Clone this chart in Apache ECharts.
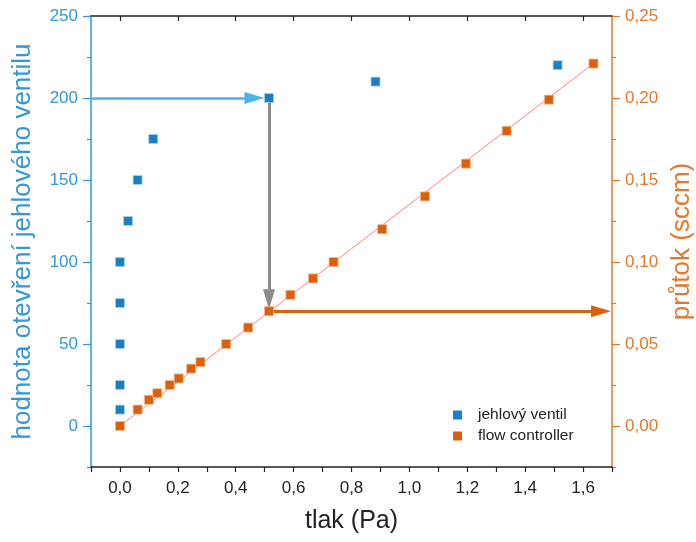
<!DOCTYPE html>
<html><head><meta charset="utf-8">
<script src="https://cdn.jsdelivr.net/npm/echarts@6/dist/echarts.min.js"></script>
<style>html,body{margin:0;padding:0;background:#fff}#c{width:696px;height:542px}</style>
</head><body><div id="c"></div>
<script>
// ---- data ----
const ventilX = [0, 0, 0, 0, 0, 0.028, 0.061, 0.115, 0.515, 0.883, 1.512];
const ventilY = [10, 25, 50, 75, 100, 125, 150, 175, 200, 210, 220];
const flowX = [0, 0.061, 0.100, 0.129, 0.172, 0.203, 0.246, 0.278, 0.367, 0.443, 0.515, 0.589, 0.667, 0.738, 0.906, 1.054, 1.195, 1.336, 1.482, 1.636];
const flowY = [0, 0.010, 0.016, 0.020, 0.025, 0.029, 0.035, 0.039, 0.050, 0.060, 0.070, 0.080, 0.090, 0.100, 0.120, 0.140, 0.160, 0.180, 0.199, 0.221];
const fitX = [0, 1.636];
const fitY = [0, 0.221];
const xLabelValues = [0, 0.2, 0.4, 0.6, 0.8, 1.0, 1.2, 1.4, 1.6];
const leftLabelValues = [0, 50, 100, 150, 200, 250];
const rightLabelValues = [0, 0.05, 0.10, 0.15, 0.20, 0.25];
const seriesNames = ['jehlový ventil', 'flow controller'];
const readValue = 200; // arrow reading on the needle-valve axis

// ---- derived ----
const zip = (a, b) => a.map((v, i) => [v, b[i]]);
const pickI = ventilY.indexOf(readValue);
const pickX = ventilX[pickI];
const flowI = flowX.indexOf(pickX);
const pickFlow = flowY[flowI];

const XMIN = -0.1, XMAX = 1.7, LMIN = -25, LMAX = 250, RMIN = -0.025, RMAX = 0.25;
const W = 696, H = 542, GL = 91, GR = 84, GT = 16, GB = 75;
const pxX = (W - GL - GR) / (XMAX - XMIN);     // px per x unit
const pxL = (H - GT - GB) / (LMAX - LMIN);      // px per left-axis unit
const pxR = (H - GT - GB) / (RMAX - RMIN);      // px per right-axis unit
const HEAD = 20; // arrow head length, px (symbol centred on end point)

const BLUE = '#1b80c1', ORANGE = '#dc5f0b';
const BLUE_AX = '#3497d6', ORANGE_AX = '#e5772a';
const FONT = 'Liberation Sans, Arial, sans-serif';
const comma = (v, d) => v.toFixed(d).replace('.', ',');

const chart = echarts.init(document.getElementById('c'), null, {renderer: 'canvas'});
chart.setOption({
  animation: false,
  backgroundColor: '#fff',
  textStyle: {fontFamily: FONT},
  grid: {left: GL, right: GR, top: GT, bottom: GB, containLabel: false, outerBoundsMode: 'none'},
  legend: {
    data: seriesNames.map(n => ({name: n, icon: 'rect', itemStyle: {borderWidth: 0}})),
    orient: 'vertical', left: 448, top: 402,
    itemWidth: 9, itemHeight: 9, itemGap: 5,
    textStyle: {fontSize: 15.5, color: '#222', fontFamily: FONT, padding: [0, 0, 0, 11]}
  },
  xAxis: [
    {type: 'value', position: 'bottom', min: XMIN, max: XMAX, interval: 0.1,
     name: 'tlak (Pa)', nameLocation: 'middle', nameGap: 42,
     nameTextStyle: {fontSize: 25, color: '#222', fontFamily: FONT},
     axisLine: {onZero: false, lineStyle: {color: '#222', width: 1.5}},
     axisTick: {length: 5, lineStyle: {color: '#222', width: 1.2}},
     axisLabel: {customValues: xLabelValues, formatter: v => comma(v, 1), fontSize: 17, color: '#222', margin: 13, fontFamily: FONT},
     splitLine: {show: false}},
    {type: 'value', position: 'top', min: XMIN, max: XMAX, interval: 0.1,
     axisLine: {onZero: false, lineStyle: {color: '#222', width: 1.5}},
     axisTick: {inside: true, length: 5, customValues: xLabelValues, lineStyle: {color: '#222', width: 1.2}},
     axisLabel: {show: false}, splitLine: {show: false}}
  ],
  yAxis: [
    {type: 'value', position: 'left', min: LMIN, max: LMAX, interval: 25,
     name: 'hodnota otevření jehlového ventilu', nameLocation: 'middle', nameGap: 55,
     nameTextStyle: {fontSize: 26, color: BLUE_AX, fontFamily: FONT},
     axisLine: {onZero: false, lineStyle: {color: BLUE_AX, width: 1.5}},
     axisTick: {length: 4, lineStyle: {color: BLUE_AX, width: 1.2}},
     axisLabel: {customValues: leftLabelValues, fontSize: 17, color: BLUE_AX, margin: 13, fontFamily: FONT},
     splitLine: {show: false}},
    {type: 'value', position: 'right', min: RMIN, max: RMAX, interval: 0.025,
     name: 'průtok (sccm)', nameLocation: 'middle', nameGap: 56,
     nameTextStyle: {fontSize: 26, color: ORANGE_AX, fontFamily: FONT},
     axisLine: {onZero: false, lineStyle: {color: ORANGE_AX, width: 1.5}},
     axisTick: {length: 4, lineStyle: {color: ORANGE_AX, width: 1.2}},
     axisLabel: {customValues: rightLabelValues, formatter: v => comma(v, 2), fontSize: 17, color: ORANGE_AX, margin: 13, fontFamily: FONT},
     splitLine: {show: false}},
    {type: 'value', position: 'left', min: LMIN, max: LMAX,
     axisLine: {show: false, onZero: false},
     axisTick: {length: 8, customValues: leftLabelValues, lineStyle: {color: BLUE_AX, width: 1.2}},
     axisLabel: {show: false}, splitLine: {show: false}},
    {type: 'value', position: 'right', min: RMIN, max: RMAX,
     axisLine: {show: false, onZero: false},
     axisTick: {length: 8, customValues: rightLabelValues, lineStyle: {color: ORANGE_AX, width: 1.2}},
     axisLabel: {show: false}, splitLine: {show: false}}
  ],
  series: [
    {name: 'fit', type: 'line', xAxisIndex: 0, yAxisIndex: 1, data: zip(fitX, fitY),
     symbol: 'none', lineStyle: {color: '#ff8080', width: 1}, z: 1, silent: true},
    {name: seriesNames[0], type: 'scatter', xAxisIndex: 0, yAxisIndex: 0,
     data: zip(ventilX, ventilY), symbol: 'rect', symbolSize: 9,
     itemStyle: {color: BLUE, opacity: 1, borderColor: '#a8d0ea', borderWidth: 0.8}, z: 5,
     markLine: {
       silent: true, animation: false, symbol: ['none', 'triangle'], symbolSize: [12, HEAD],
       label: {show: false},
       data: [
         [{coord: [XMIN, readValue], lineStyle: {color: '#4ab3ee', width: 2.5, type: 'solid'}},
          {coord: [pickX - (4.5 + HEAD / 2) / pxX, readValue]}],
         [{coord: [pickX, readValue - 4 / pxL], lineStyle: {color: '#8c8c8c', width: 3, type: 'solid'}},
          {coord: [pickX, pickFlow * (pxR / pxL) + (2 + HEAD / 2) / pxL]}]
       ]
     }},
    {name: seriesNames[1], type: 'scatter', xAxisIndex: 0, yAxisIndex: 1,
     data: zip(flowX, flowY), symbol: 'rect', symbolSize: 9,
     itemStyle: {color: ORANGE, opacity: 1, borderColor: '#f2b888', borderWidth: 0.8}, z: 5,
     markLine: {
       silent: true, animation: false, symbol: ['none', 'triangle'], symbolSize: [12, HEAD],
       label: {show: false},
       data: [
         [{coord: [pickX, pickFlow], lineStyle: {color: ORANGE, width: 3, type: 'solid'}},
          {coord: [XMAX - (HEAD / 2 + 1) / pxX, pickFlow]}]
       ]
     }}
  ]
});
</script></body></html>
